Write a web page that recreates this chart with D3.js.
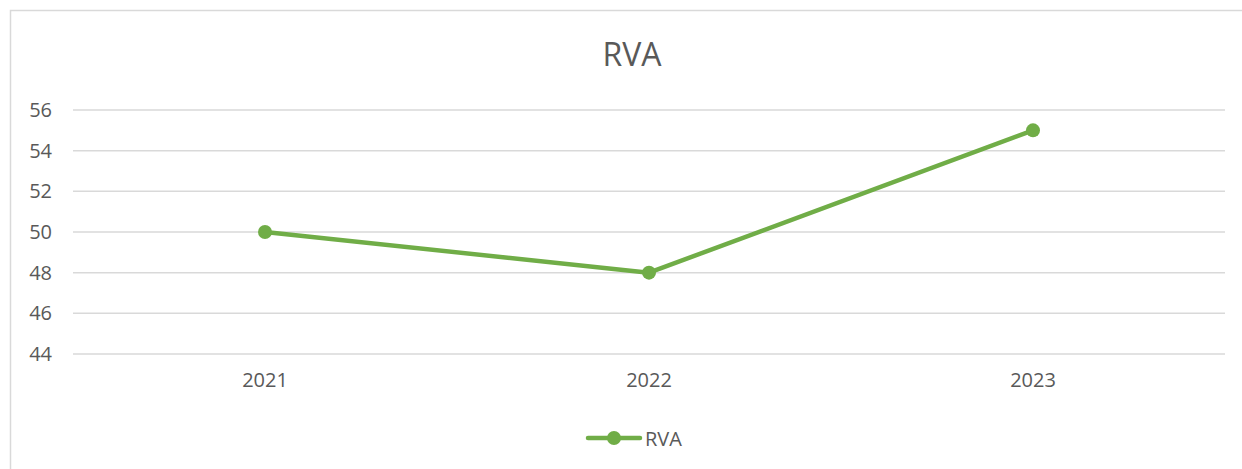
<!DOCTYPE html>
<html>
<head>
<meta charset="utf-8">
<script src="https://cdn.jsdelivr.net/npm/d3@7"></script>
<style>
  body { margin: 0; background: #fff; }
  svg { display: block; font-family: "Open Sans", "Noto Sans", sans-serif; }
</style>
</head>
<body>
<div id="chart"></div>
<script>
const years = ["2021", "2022", "2023"];
const rvaValues = [50, 48, 55];
const yTicks = [44, 46, 48, 50, 52, 54, 56];
const seriesName = "RVA";

const width = 1242, height = 469;
const plot = { left: 73, right: 1225, top: 110, bottom: 354 };
const lineColor = "#70AD47";
const textColor = "#595959";
const labelSize = "20px";

let svg = d3.select("#chart").append("svg")
    .attr("width", width)
    .attr("height", height);

// chart border
svg.append("rect")
    .attr("x", 10.5).attr("y", 10.5)
    .attr("width", width + 20).attr("height", height + 20)
    .attr("fill", "none")
    .attr("stroke", "#d9d9d9")
    .attr("stroke-width", 1.5);

svg.append("text")
    .attr("x", 632).attr("y", 66)
    .attr("text-anchor", "middle")
    .attr("fill", textColor)
    .style("font-size", "32px")
    .text(seriesName);

let x = d3.scaleBand()
    .domain(years)
    .range([plot.left, plot.right]);

let y = d3.scaleLinear()
    .domain([44, 56])
    .range([plot.bottom, plot.top]);

// gridlines
svg.append("g")
    .selectAll("line")
    .data(yTicks)
    .enter()
    .append("line")
        .attr("x1", plot.left)
        .attr("x2", plot.right)
        .attr("y1", d => y(d))
        .attr("y2", d => y(d))
        .attr("stroke", "#d9d9d9")
        .attr("stroke-width", 1.5);

let yAxis = d3.axisLeft(y).tickValues(yTicks).tickSize(0).tickPadding(0);
let gy = svg.append("g")
    .attr("transform", `translate(52, 0)`)
    .call(yAxis);
gy.select(".domain").remove();
gy.selectAll("text")
    .attr("fill", textColor)
    .style("font-size", labelSize)
    .style("font-family", "'Open Sans', sans-serif");

let xAxis = d3.axisBottom(x).tickSize(0).tickPadding(0);
let gx = svg.append("g")
    .attr("transform", `translate(0, 373)`)
    .call(xAxis);
gx.select(".domain").remove();
gx.selectAll("text")
    .attr("fill", textColor)
    .style("font-size", labelSize)
    .style("font-family", "'Open Sans', sans-serif");

let points = years.map((yr, i) => ({ year: yr, value: rvaValues[i] }));

let line = d3.line()
    .x(d => x(d.year) + x.bandwidth() / 2)
    .y(d => y(d.value));

svg.append("path")
    .datum(points)
    .attr("d", line)
    .attr("fill", "none")
    .attr("stroke", lineColor)
    .attr("stroke-width", 4.5)
    .attr("stroke-linejoin", "round")
    .attr("stroke-linecap", "round");

svg.selectAll("circle.pt")
    .data(points)
    .enter()
    .append("circle")
        .attr("class", "pt")
        .attr("cx", d => x(d.year) + x.bandwidth() / 2)
        .attr("cy", d => y(d.value))
        .attr("r", 7)
        .attr("fill", lineColor);

// legend
let legend = svg.append("g").attr("transform", "translate(0, 438)");
legend.append("line")
    .attr("x1", 588).attr("x2", 640)
    .attr("y1", 0).attr("y2", 0)
    .attr("stroke", lineColor)
    .attr("stroke-width", 4.5)
    .attr("stroke-linecap", "round");
legend.append("circle")
    .attr("cx", 614).attr("cy", 0).attr("r", 7)
    .attr("fill", lineColor);
legend.append("text")
    .attr("x", 645).attr("y", 7.5)
    .attr("fill", textColor)
    .style("font-size", labelSize)
    .text(seriesName);
</script>
</body>
</html>
